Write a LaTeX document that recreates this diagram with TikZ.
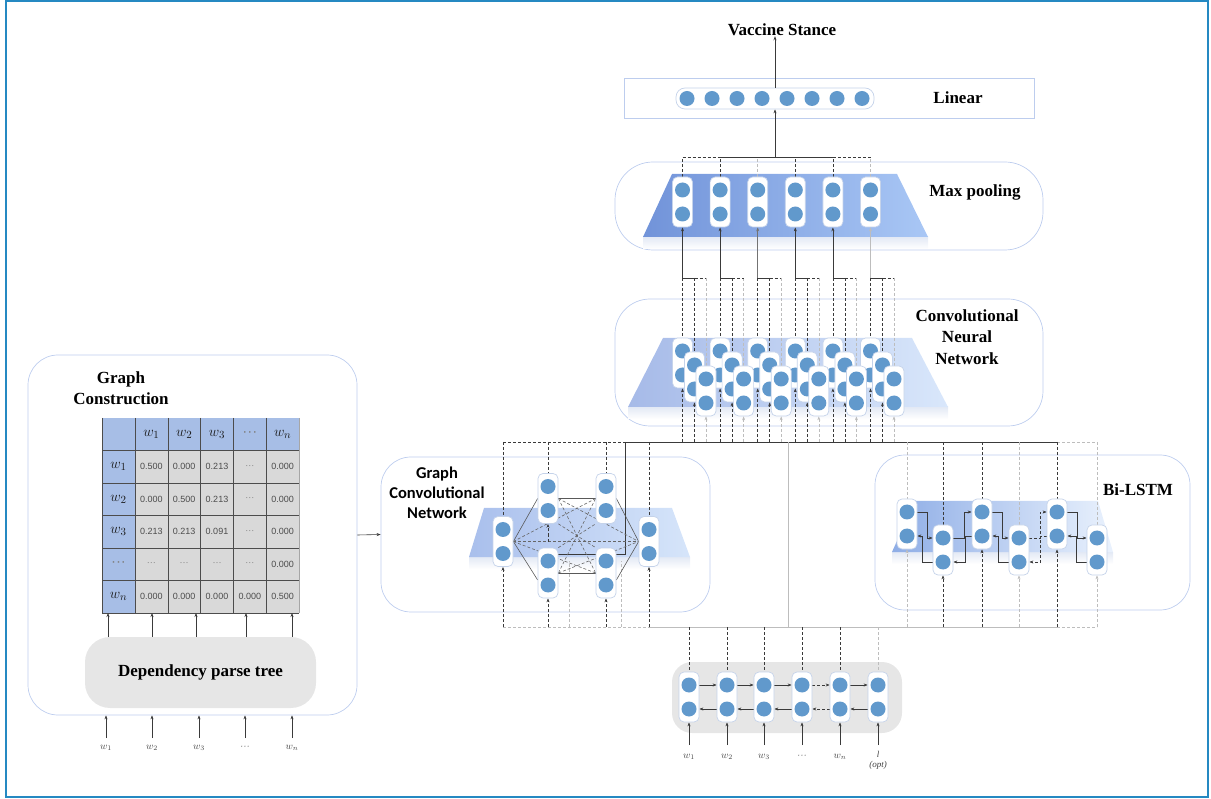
\documentclass[tikz,border=0pt]{standalone}
\usepackage{fontspec}
\setmainfont{Liberation Serif}
\newfontfamily\calib{Carlito}
\newfontfamily\arialf{Liberation Sans}
\usetikzlibrary{arrows.meta,calc}
\pgfdeclarelayer{back}
\pgfdeclarelayer{mid}
\pgfsetlayers{back,mid,main}
\definecolor{frameblue}{HTML}{2589C2}
\definecolor{panelb}{HTML}{BDCDEE}
\definecolor{dotc}{HTML}{6199CC}
\definecolor{capb}{HTML}{C5D3EA}
\definecolor{matblue}{HTML}{A7BEE6}
\definecolor{matgray}{HTML}{D9D9D9}
\definecolor{dgray}{HTML}{3A3A3A}
\definecolor{lgray}{HTML}{BDBDBD}
\definecolor{inbg}{HTML}{E6E6E6}
\definecolor{shadc}{HTML}{E3E9F5}
\definecolor{mpL}{HTML}{7193D9}
\definecolor{mpR}{HTML}{A9C7F5}
\definecolor{cnL}{HTML}{A6BAE8}
\definecolor{cnR}{HTML}{D9E7FB}
\definecolor{gcL}{HTML}{A9BFEC}
\definecolor{gcR}{HTML}{D6E5FA}
\definecolor{biL}{HTML}{8EADE6}
\definecolor{biR}{HTML}{EAF2FD}
\newcommand\mydots{{\arialf\textcolor{gray}{···}}}
\tikzset{
 caps/.style={draw=capb, fill=white, rounded corners=5pt, minimum width=20pt, minimum height=50pt, inner sep=0pt, line width=0.7pt},
 dot/.style={circle, fill=dotc, minimum size=15pt, inner sep=0pt},
 panel/.style={draw=panelb, line width=0.7pt, rounded corners=30pt, inner sep=0pt},
 arr/.style={-{Stealth[length=4pt,width=3pt]}},
 dsh/.style={dash pattern=on 3pt off 2pt},
 conn/.style={line width=0.6pt},
 cell/.pic={\node[caps] (-box) at (0,0) {}; \node[dot] (-u) at (0,-12) {}; \node[dot] (-l) at (0,12) {};},
 ttl/.style={font=\bfseries\fontsize{17}{21.5}\selectfont, align=center, inner sep=0pt},
 hdr/.style={font=\fontsize{15}{15}\selectfont, text=black!90, inner sep=0pt},
 val/.style={font=\arialf\fontsize{9}{10}\selectfont, text=black!70, inner sep=0pt},
 inlab/.style={font=\itshape\fontsize{10}{11}\selectfont, text=black!75, inner sep=1pt, align=center},
 mgrid/.style={draw=black!70, line width=0.6pt},
}
\begin{document}
\begin{tikzpicture}[x=1pt,y=-1pt]
\useasboundingbox (0,0) rectangle (1211,799);
\draw[frameblue, line width=2.2pt] (6,1) rectangle (1208,797);

% ---------- helper coordinates
\coordinate (busT) at (0,442);
\coordinate (busB) at (0,627);
\coordinate (comb) at (0,278);
\coordinate (brY) at (0,157);
\coordinate (ly) at (0,738);
\coordinate (iy) at (0,745);
\coordinate (tJ) at (625,442);
\coordinate (gj) at (625,554);
\coordinate (cT) at (788,442);
\coordinate (cB) at (788,627);
\coordinate (gl1) at (569,561);
\coordinate (gl2) at (621,561);
\coordinate (gh) at (0,541.5);

% ---------- panels and trapezoids
\begin{pgfonlayer}{back}
\node[panel, minimum width=329pt, minimum height=360pt] (lp) at (192.5,535) {};
\node[panel, minimum width=329pt, minimum height=155pt] (gcnp) at (545.5,534.5) {};
\node[panel, minimum width=315pt, minimum height=155pt] (bip) at (1032.5,532.5) {};
\node[panel, rounded corners=35pt, minimum width=428pt, minimum height=127pt] (cnnp) at (829,362.5) {};
\node[panel, rounded corners=38pt, minimum width=428pt, minimum height=88pt] (mpp) at (829,206) {};
\node[draw=panelb, fill=white, line width=0.7pt, minimum width=410pt, minimum height=40pt, inner sep=0pt] (linb) at (829,98) {};

\shade[top color=shadc, bottom color=white] (643,237) rectangle (928,249);
\path[left color=mpL, right color=mpR] (672,174) -- (897,174) -- (928,237) -- (643,237) -- cycle;
\shade[top color=shadc, bottom color=white] (628,407) rectangle (948,419);
\path[left color=cnL, right color=cnR] (663,338) -- (912,338) -- (948,407) -- (628,407) -- cycle;
\shade[top color=shadc, bottom color=white] (469,557) rectangle (690,569);
\path[left color=gcL, right color=gcR] (484,508) -- (672,508) -- (690,557) -- (469,557) -- cycle;
\shade[top color=shadc, bottom color=white] (892,552) rectangle (1113,564);
\path[left color=biL, right color=biR] (915,501) -- (1098,501) -- (1113,552) -- (892,552) -- cycle;

\node[fill=inbg, rounded corners=20pt, minimum width=230pt, minimum height=71pt, inner sep=0pt] (inb) at (787,697.5) {};
\node[fill=inbg, rounded corners=25pt, minimum width=231pt, minimum height=71pt, inner sep=0pt,
      font=\bfseries\fontsize{17}{20}\selectfont] (dpt) at (200.5,672.5) {Dependency parse tree};
\end{pgfonlayer}

% ---------- texts
\node[ttl] (vs) at (782,30) {Vaccine Stance};
\node[ttl] (linl) at (958,98) {Linear};
\node[ttl] (mpl) at (975,192) {Max pooling};
\node[ttl] (cnnl) at (967,337) {Convolutional\\Neural\\Network};
\node[ttl] (bil) at (1138,490) {Bi-LSTM};
\node[ttl] (gcl) at (121,388) {Graph\\Construction};
\node[align=center, inner sep=0pt, font=\calib\bfseries\fontsize{16.5}{20}\selectfont] (gcnl) at (437,493) {Graph\\Convolutional\\Network};

% ---------- adjacency matrix
\fill[matblue] (102,418) rectangle (299,450.5);
\fill[matblue] (102,450.5) rectangle (135,613);
\fill[matgray] (135,450.5) rectangle (299,613);
\foreach \xx in {102,135,168,200,233,266} \draw[mgrid] (\xx,418) -- (\xx,613);
\draw[draw=black!35, line width=0.6pt] (299,418) -- (299,613);
\foreach \yy in {450.5,483,515.5,548,580.5,613} \draw[mgrid] (102,\yy) -- (299,\yy);
\foreach \tx [count=\j] in {$w_1$,$w_2$,$w_3$,\mydots,$w_n$}
  \node[hdr] (h\j) at ({135+32.8*\j-16.4},434) {\tx};
\foreach \tx/\yy [count=\j] in {$w_1$/466.75,$w_2$/499.25,$w_3$/531.75,\mydots/564.25,$w_n$/596.75}
  \node[hdr] (rh\j) at (118.5,\yy) {\tx};
\foreach \tx [count=\j] in {0.500,0.000,0.213,\mydots,0.000}
  \node[val] (ma\j) at ({135+32.8*\j-16.4},466.75) {\tx};
\foreach \tx [count=\j] in {0.000,0.500,0.213,\mydots,0.000}
  \node[val] (mb\j) at ({135+32.8*\j-16.4},499.25) {\tx};
\foreach \tx [count=\j] in {0.213,0.213,0.091,\mydots,0.000}
  \node[val] (mc\j) at ({135+32.8*\j-16.4},531.75) {\tx};
\foreach \tx [count=\j] in {\mydots,\mydots,\mydots,\mydots,0.000}
  \node[val] (md\j) at ({135+32.8*\j-16.4},564.25) {\tx};
\foreach \tx [count=\j] in {0.000,0.000,0.000,0.000,0.500}
  \node[val] (me\j) at ({135+32.8*\j-16.4},596.75) {\tx};

% parse tree -> matrix
\foreach \xx [count=\i] in {108,152,196,246,292} {
  \coordinate (mt\i) at (\xx,613);
  \draw[arr,conn,dgray] (mt\i |- dpt.north) -- (mt\i);
}
% inputs of left panel
\foreach \xx/\tx [count=\i] in {106/$w_1$,152/$w_2$,199/$w_3$,245/\mydots,292/$w_n$} {
  \node[inlab] (lw\i) at (\xx,748) {\tx};
  \draw[arr,conn,dgray] (lw\i |- ly) -- (lw\i |- lp.south);
}
\draw[arr,conn,dgray] (lp.east) -- (gcnp.west);

% ---------- linear layer
\node[draw=capb, fill=white, line width=0.7pt, rounded corners=9pt, minimum width=198pt, minimum height=21pt, inner sep=0pt] (lincap) at (775,98.5) {};
\foreach \i in {1,...,8} \node[dot] (lc\i) at ({687+25*(\i-1)},98.5) {};
\draw[arr,conn,dgray] (lincap.north) -- (lincap.north |- vs.south);

% ---------- max pooling cells
\foreach \i in {1,...,6} \pic (mp\i) at ({682.5+37.6*(\i-1)},202) {cell};
% ---------- CNN cells
\foreach \i in {1,...,6} \pic (ca\i) at ({682.5+37.6*(\i-1)},363) {cell};
\foreach \i in {1,...,6} \pic (cb\i) at ({694.5+37.6*(\i-1)},377) {cell};
\foreach \i in {1,...,6} \pic (cc\i) at ({706+37.6*(\i-1)},391) {cell};

% ---------- GCN cells
\pic (g1) at (503,541.5) {cell};
\pic (g2) at (548,498.5) {cell};
\pic (g3) at (606,498.5) {cell};
\pic (g4) at (548,573) {cell};
\pic (g5) at (606,573) {cell};
\pic (g6) at (649,541.5) {cell};

% ---------- Bi-LSTM cells
\pic (b1) at (907,524) {cell};
\pic (b2) at (943,550) {cell};
\pic (b3) at (982,524) {cell};
\pic (b4) at (1019,550) {cell};
\pic (b5) at (1057,524) {cell};
\pic (b6) at (1097,550) {cell};

% ---------- input cells
\foreach \xx [count=\i] in {689,727,764,802,840,878} \pic (i\i) at (\xx,697) {cell};
\foreach \tx/\xx [count=\i] in {$w_1$/689,$w_2$/727,$w_3$/764,\mydots/802,$w_n$/840} \node[inlab] (iw\i) at (\xx,757) {\tx};
\node[inlab, font=\itshape\fontsize{9}{10}\selectfont] (iw6) at (878,760) {\textit{l}\\(opt)};

% ---------- connectors (behind cells)
\begin{pgfonlayer}{mid}
% max pooling -> linear
\draw[conn,dgray] (mp2-box.north |- brY) -- (mp5-box.north |- brY);
\draw[conn,dgray,dsh] (mp1-box.north |- brY) -- (mp2-box.north |- brY);
\draw[conn,dgray,dsh] (mp5-box.north |- brY) -- (mp6-box.north |- brY);
\foreach \i/\cl in {1/dgray,2/dgray,3/lgray,4/dgray,5/dgray,6/lgray}
  \draw[conn,\cl,dsh] (mp\i-box.north) -- (mp\i-box.north |- brY);
\draw[arr,conn,dgray] (lincap.south |- brY) -- (lincap.south);

% CNN -> max pooling, bus -> CNN
\foreach \i in {1,...,6} {
  \foreach \rw/\cl in {ca/dgray,cb/dgray,cc/lgray} {
    \draw[conn,dsh,\cl] (\rw\i-box.north |- comb) -- (\rw\i-box.north);
    \draw[conn,dsh,\cl,arr] (\rw\i-box.south |- busT) -- (\rw\i-box.south);
  }
  \draw[conn,dgray] (ca\i-box.north |- comb) -- (cb\i-box.north |- comb);
  \draw[conn,dgray,dsh] (cb\i-box.north |- comb) -- (cc\i-box.north |- comb);
}
\foreach \i/\cl in {1/dgray,2/dgray,3/black!55,4/dgray,5/dgray,6/lgray}
  \draw[arr,conn,\cl] (ca\i-box.north |- comb) -- (mp\i-box.south);

% top bus
\draw[conn,dgray,dsh] (g1-box.north |- busT) -- (tJ);
\draw[conn,dgray] (tJ) -- (b5-box.north |- busT);
\draw[conn,lgray,dsh] (b5-box.north |- busT) -- (b6-box.north |- busT);
% bottom bus
\draw[conn,lgray,dsh] (g1-box.south |- busB) -- (g6-box.south |- busB);
\draw[conn,lgray] (g6-box.south |- busB) -- (b5-box.south |- busB);
\draw[conn,lgray,dsh] (b5-box.south |- busB) -- (b6-box.south |- busB);
\draw[conn,lgray] (cT) -- (cB);

% GCN verticals
\foreach \g in {g1,g2,g3,g6} \draw[conn,dgray,dsh] (\g-box.north |- busT) -- (\g-box.north);
\foreach \g in {g1,g4,g5,g6} \draw[conn,dgray,dsh,arr] (\g-box.south |- busB) -- (\g-box.south);
\draw[conn,dgray] (tJ) -- (gj) -- (g4-box.east |- gj);
\draw[conn,lgray,dsh] (gl1 |- busB) -- (gl1);
\draw[conn,lgray,dsh] (gl2 |- busB) -- (gl2);
% GCN edges
\draw[conn,black!65] (g1-box.east) -- (g2-box.west);
\draw[conn,black!65] (g1-box.east) -- ([yshift=-7pt]g4-box.west);
\draw[conn,black!65] (g3-box.east) -- (g6-box.west);
\draw[conn,black!65] ([yshift=-7pt]g5-box.east) -- (g6-box.west);
\draw[conn,black!65] (g2-box.east) -- (g3-box.west);
\draw[conn,black!65] (g4-box.east) -- (g5-box.west);
\foreach \a/\b in {g1/g3,g1/g5,g1/g6,g2/g6,g4/g6,g2/g5,g4/g3}
  \draw[conn,black!60,dsh] (\a-box.east) -- (\b-box.west);
\draw[conn,black!60,dsh] (g2-box.south east) -- (g5-box.north west);
\draw[conn,black!60,dsh] (g4-box.north east) -- (g3-box.south west);
\draw[conn,dgray,dsh,arr] (g2-box.south |- gh) -- (g2-box.south);

% Bi-LSTM verticals
\foreach \b/\cl in {b1/lgray,b2/dgray,b3/dgray,b4/lgray,b5/dgray,b6/lgray} {
  \draw[conn,dsh,\cl] (\b-box.north |- busT) -- (\b-box.north);
  \draw[conn,dsh,\cl,arr] (\b-box.south |- busB) -- (\b-box.south);
}
% Bi-LSTM recurrent links
\foreach \h/\l/\s in {b1/b2/solid,b3/b4/solid,b5/b6/solid} {
  \draw[conn,dgray,arr,\s] (\h-box.east |- \h-u) -- ++(10,0) |- (\l-box.west |- \l-u);
  \draw[conn,dgray,arr,\s] (\l-box.west |- \l-l) -- ++(-10,0) |- (\h-box.east |- \h-l);
}
\foreach \l/\h/\s in {b2/b3/solid,b4/b5/dsh} {
  \draw[conn,dgray,arr,\s] (\l-box.east |- \l-u) -- ++(11,0) |- (\h-box.west |- \h-u);
  \draw[conn,dgray,arr,\s] (\h-box.west |- \h-l) -- ++(-6,0) |- (\l-box.east |- \l-l);
}

% input layer
\foreach \a/\b/\s in {1/2/solid,2/3/solid,3/4/solid,4/5/dsh,5/6/solid} {
  \draw[conn,dgray,arr,\s] (i\a-box.east |- i\a-u) -- (i\b-box.west |- i\b-u);
  \draw[conn,dgray,arr,\s] (i\b-box.west |- i\b-l) -- (i\a-box.east |- i\a-l);
}
\foreach \i/\cl in {1/dgray,2/dgray,3/dgray,4/dgray,5/dgray,6/lgray}
  \draw[conn,dsh,\cl] (i\i-box.north |- busB) -- (i\i-box.north);
\foreach \i in {1,...,6}
  \draw[arr,conn,dgray] (iw\i |- iy) -- (i\i-box.south);
\end{pgfonlayer}
\end{tikzpicture}
\end{document}
